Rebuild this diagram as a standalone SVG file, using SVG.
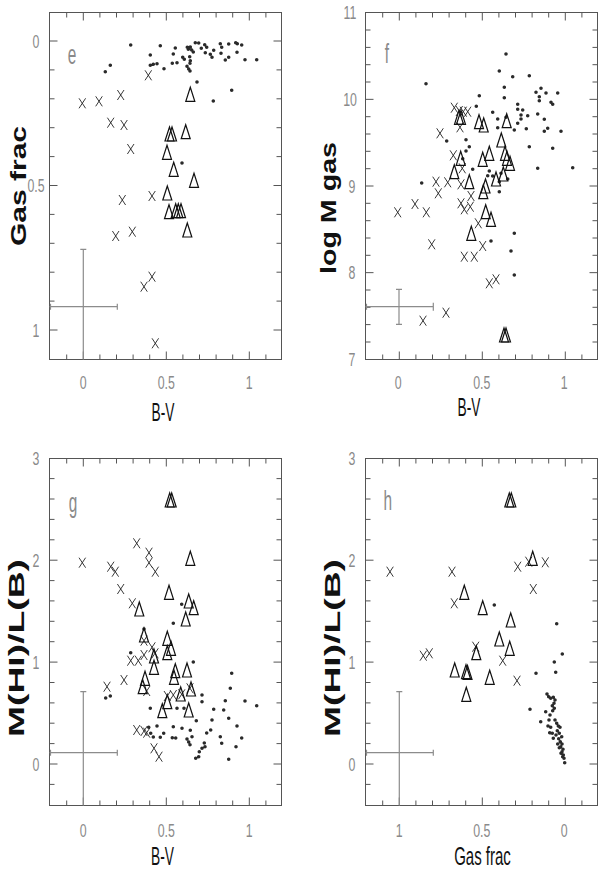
<svg xmlns="http://www.w3.org/2000/svg" xmlns:xlink="http://www.w3.org/1999/xlink" width="599" height="872" viewBox="0 0 599 872">
<style>
.fr{fill:none;stroke:#555;stroke-width:1}
.eb{fill:none;stroke:#8c8c8c;stroke-width:1.2}
.dt{fill:none;stroke:#2a2a2a;stroke-width:3.6;stroke-linecap:round}
.cr{fill:none;stroke:#222;stroke-width:0.9}
.tr{fill:none;stroke:#111;stroke-width:1.2}
.num{font-family:"Liberation Sans",Arial,sans-serif;font-size:19px;fill:#8a8a8a;text-anchor:middle}
.let{font-family:"Liberation Sans",Arial,sans-serif;font-size:28px;fill:#8a8a8a;text-anchor:middle}
.yl{font-family:"Liberation Sans",Arial,sans-serif;font-weight:bold;font-size:22px;fill:#111;text-anchor:middle}
.xl{font-family:"Liberation Sans",Arial,sans-serif;font-size:25px;fill:#111;text-anchor:middle}
</style>
<defs>
<path id="x" class="cr" d="M-3.3,-5L3.3,5M3.3,-5L-3.3,5"/>
<path id="t" class="tr" d="M0,-7L4.5,7H-4.5Z"/>
<g id="box" class="fr">
<rect x="0" y="0" width="232" height="347"/>
<path d="M17.2,0v5M33.8,0v8M50.4,0v5M67,0v5M83.6,0v5M100.2,0v5M116.8,0v8M133.4,0v5M150,0v5M166.6,0v5M183.2,0v5M199.8,0v8M216.4,0v5M17.2,347v-5M33.8,347v-8M50.4,347v-5M67,347v-5M83.6,347v-5M100.2,347v-5M116.8,347v-8M133.4,347v-5M150,347v-5M166.6,347v-5M183.2,347v-5M199.8,347v-8M216.4,347v-5"/>
</g>
<path id="ye" class="fr" d="M0,28.5h8M232,28.5h-8M0,57.4h5M232,57.4h-5M0,86.3h5M232,86.3h-5M0,115.2h5M232,115.2h-5M0,144.1h5M232,144.1h-5M0,173h8M232,173h-8M0,201.9h5M232,201.9h-5M0,230.8h5M232,230.8h-5M0,259.7h5M232,259.7h-5M0,288.6h5M232,288.6h-5M0,317.5h8M232,317.5h-8"/>
<path id="yf" class="fr" d="M0,17.5h5M232,17.5h-5M0,34.9h5M232,34.9h-5M0,52.2h5M232,52.2h-5M0,69.5h5M232,69.5h-5M0,86.85h8M232,86.85h-8M0,104.2h5M232,104.2h-5M0,121.5h5M232,121.5h-5M0,138.8h5M232,138.8h-5M0,156.2h5M232,156.2h-5M0,173.5h8M232,173.5h-8M0,190.8h5M232,190.8h-5M0,208.2h5M232,208.2h-5M0,225.5h5M232,225.5h-5M0,242.8h5M232,242.8h-5M0,260.15h8M232,260.15h-8M0,277.5h5M232,277.5h-5M0,294.8h5M232,294.8h-5M0,312.1h5M232,312.1h-5M0,329.5h5M232,329.5h-5"/>
<path id="yg" class="fr" d="M0,20.1h5M232,20.1h-5M0,40.5h5M232,40.5h-5M0,60.9h5M232,60.9h-5M0,81.3h5M232,81.3h-5M0,101.7h8M232,101.7h-8M0,122.1h5M232,122.1h-5M0,142.4h5M232,142.4h-5M0,162.8h5M232,162.8h-5M0,183.2h5M232,183.2h-5M0,203.6h8M232,203.6h-8M0,224h5M232,224h-5M0,244.4h5M232,244.4h-5M0,264.7h5M232,264.7h-5M0,285.1h5M232,285.1h-5M0,305.5h8M232,305.5h-8M0,325.9h5M232,325.9h-5"/>
</defs>
<rect width="599" height="872" fill="#fff"/>

<g id="panel-e">
<use href="#box" transform="translate(49.5,12.5)"/>
<use href="#ye" transform="translate(49.5,12.5)"/>
<text class="num" transform="translate(36,47.5) scale(0.65,1)">0</text>
<text class="num" transform="translate(36,192) scale(0.65,1)">0.5</text>
<text class="num" transform="translate(36,336.5) scale(0.65,1)">1</text>
<text class="num" transform="translate(83.3,389) scale(0.65,1)">0</text>
<text class="num" transform="translate(166.3,389) scale(0.65,1)">0.5</text>
<text class="num" transform="translate(249.3,389) scale(0.65,1)">1</text>
<text class="let" transform="translate(72,64) scale(0.55,1)">e</text>
<text class="xl" transform="translate(163,421) scale(0.55,1)">B-V</text>
<text class="yl" transform="translate(26,186) rotate(-90)" textLength="120" lengthAdjust="spacingAndGlyphs">Gas frac</text>
<path class="eb" d="M83.3,249.3V359.5M80.3,249.3h6M49.5,306.7H117.3M117.3,303.7v6M50.5,303.7v6"/>
<path class="dt" d="M130.7,45h0M105.3,71.7h0M110.3,65.3h0M150.3,55h0M150.3,65.3h0M153.3,64.3h0M157,63.7h0M160.3,45.7h0M164,68.7h0M173.3,54h0M175.3,48h0M172.3,63.3h0M177,62.7h0M182.7,57.3h0M184.3,59.3h0M187.3,47.3h0M188.3,49.3h0M190.3,47h0M191.7,50h0M193.3,52h0M189.7,56.7h0M190.3,60.7h0M190,63.3h0M187,66.3h0M188.7,69h0M190,71h0M195.3,42.7h0M198.7,43h0M201.3,48.3h0M204.7,44.7h0M206.7,47.3h0M205.3,52.7h0M210.3,54.3h0M212,57.3h0M213.7,50.3h0M220.3,43.7h0M221.7,47.3h0M221,53.3h0M228.7,44h0M228.7,57.3h0M225.3,60h0M235.7,42.7h0M237.3,43.7h0M237,52.3h0M241.7,45h0M245,59.7h0M256.7,59.7h0M197,82h0M231.7,90.3h0M213.3,101h0M182,163h0"/>
<use href="#x" x="82.3" y="103.3"/><use href="#x" x="99" y="101.3"/><use href="#x" x="120.7" y="95"/><use href="#x" x="110.7" y="122.7"/><use href="#x" x="124" y="125"/><use href="#x" x="130.7" y="149"/><use href="#x" x="148.3" y="75.3"/><use href="#x" x="122.3" y="200"/><use href="#x" x="152" y="196"/><use href="#x" x="115.7" y="236"/><use href="#x" x="132.3" y="231.7"/><use href="#x" x="152" y="276.7"/><use href="#x" x="144" y="286.7"/><use href="#x" x="155.3" y="343.3"/>
<use href="#t" x="190.3" y="94.3"/><use href="#t" x="169.5" y="134"/><use href="#t" x="172" y="134"/><use href="#t" x="185.7" y="131.7"/><use href="#t" x="167" y="152.3"/><use href="#t" x="173.7" y="169.3"/><use href="#t" x="194" y="180.3"/><use href="#t" x="167.3" y="193"/><use href="#t" x="169" y="211.7"/><use href="#t" x="175.7" y="210.7"/><use href="#t" x="178.3" y="210.7"/><use href="#t" x="181" y="210.7"/><use href="#t" x="187.3" y="230"/>
</g>

<g id="panel-f">
<use href="#box" transform="translate(365.5,12.5)"/>
<use href="#yf" transform="translate(365.5,12.5)"/>
<text class="num" transform="translate(350,19) scale(0.65,1)">11</text>
<text class="num" transform="translate(350,105.5) scale(0.65,1)">10</text>
<text class="num" transform="translate(352,192.5) scale(0.65,1)">9</text>
<text class="num" transform="translate(352,279) scale(0.65,1)">8</text>
<text class="num" transform="translate(352,365.8) scale(0.65,1)">7</text>
<text class="num" transform="translate(398.3,389) scale(0.65,1)">0</text>
<text class="num" transform="translate(481.7,389) scale(0.65,1)">0.5</text>
<text class="num" transform="translate(564.3,389) scale(0.65,1)">1</text>
<text class="let" transform="translate(387,63) scale(0.55,1)">f</text>
<text class="xl" transform="translate(469,416) scale(0.55,1)">B-V</text>
<text class="yl" transform="translate(336,208) rotate(-90)" textLength="132" lengthAdjust="spacingAndGlyphs">log M gas</text>
<path class="eb" d="M399,289.3V324.3M396,289.3h6M396,324.3h6M365.5,306.7H433.3M433.3,302.7v8M366.5,303.7v6"/>
<path class="dt" d="M426,83.7h0M479.3,95.7h0M499.3,71h0M506,54h0M512.7,76.7h0M504.3,87.3h0M504.3,97.7h0M529.3,75.7h0M476.3,106.3h0M492.7,112.3h0M497.7,119h0M497.7,127.7h0M517.7,104.3h0M517.7,109.3h0M522.7,110h0M521,115h0M521,119h0M517.7,123.3h0M514.3,130h0M527.7,115.7h0M526.3,128.7h0M536,92.3h0M541,88.3h0M539.3,96.7h0M539.3,100.7h0M546,93h0M557.7,93h0M551,102.3h0M552.7,104.3h0M537.7,114h0M544.3,119.3h0M547.7,128.3h0M544.3,131.3h0M561,131.3h0M529.3,146.7h0M552.7,148.3h0M537.7,168.3h0M572.7,167.7h0M446.7,141h0M466,139.7h0M469.3,146.7h0M466,151h0M472.7,169.3h0M489.3,171h0M487.7,175.7h0M492.7,176h0M499.3,181.7h0M501,173.3h0M507.7,179h0M421.7,183h0M506,117.3h0M462.7,158.7h0M499.3,191.7h0M491,241h0M514.3,233.3h0M511,251h0M514.3,275h0"/>
<use href="#x" x="454.3" y="107.7"/><use href="#x" x="459.3" y="111"/><use href="#x" x="463.3" y="111.7"/><use href="#x" x="467.7" y="111.7"/><use href="#x" x="460" y="127.3"/><use href="#x" x="440" y="133.3"/><use href="#x" x="453.3" y="155.3"/><use href="#x" x="462.3" y="168.3"/><use href="#x" x="436" y="181.7"/><use href="#x" x="447.7" y="182.3"/><use href="#x" x="461" y="184.3"/><use href="#x" x="438.3" y="193.3"/><use href="#x" x="397.7" y="212.3"/><use href="#x" x="415" y="204"/><use href="#x" x="426.3" y="212.3"/><use href="#x" x="431.7" y="244.3"/><use href="#x" x="461" y="203.3"/><use href="#x" x="464.3" y="209.3"/><use href="#x" x="470.3" y="206.7"/><use href="#x" x="471" y="196"/><use href="#x" x="464.3" y="256.7"/><use href="#x" x="474.3" y="256.7"/><use href="#x" x="478.3" y="223.3"/><use href="#x" x="482.7" y="246"/><use href="#x" x="489.3" y="283.3"/><use href="#x" x="496" y="279.3"/><use href="#x" x="423" y="320.7"/><use href="#x" x="446" y="312.7"/>
<use href="#t" x="459" y="117.3"/><use href="#t" x="461" y="117.3"/><use href="#t" x="479" y="121.7"/><use href="#t" x="483.7" y="125"/><use href="#t" x="506.7" y="120.7"/><use href="#t" x="501.3" y="140"/><use href="#t" x="505" y="153.3"/><use href="#t" x="507" y="158.3"/><use href="#t" x="510" y="163.3"/><use href="#t" x="460.7" y="158.3"/><use href="#t" x="454.3" y="171.7"/><use href="#t" x="482.7" y="159.3"/><use href="#t" x="489.3" y="153.3"/><use href="#t" x="469.3" y="181.7"/><use href="#t" x="496" y="179"/><use href="#t" x="503.3" y="174"/><use href="#t" x="485.5" y="186"/><use href="#t" x="483.3" y="191.7"/><use href="#t" x="485.7" y="211.7"/><use href="#t" x="491" y="219.3"/><use href="#t" x="471.3" y="233.3"/><use href="#t" x="504" y="335"/><use href="#t" x="506" y="335"/>
</g>

<g id="panel-g">
<use href="#box" transform="translate(49.5,458.5)"/>
<use href="#yg" transform="translate(49.5,458.5)"/>
<text class="num" transform="translate(36,465) scale(0.65,1)">3</text>
<text class="num" transform="translate(36,566.7) scale(0.65,1)">2</text>
<text class="num" transform="translate(36,668.5) scale(0.65,1)">1</text>
<text class="num" transform="translate(36,770.5) scale(0.65,1)">0</text>
<text class="num" transform="translate(83.3,836.5) scale(0.65,1)">0</text>
<text class="num" transform="translate(166.3,836.5) scale(0.65,1)">0.5</text>
<text class="num" transform="translate(249.3,836.5) scale(0.65,1)">1</text>
<text class="let" transform="translate(73,512) scale(0.55,1)">g</text>
<text class="xl" transform="translate(162.5,865) scale(0.55,1)">B-V</text>
<text class="yl" transform="translate(24,648) rotate(-90)" textLength="178" lengthAdjust="spacingAndGlyphs">M(HI)/L(B)</text>
<path class="eb" d="M83.3,691.7V805.5M80.3,691.7h6M49.5,752.7H117.3M117.3,749.7v6M50.5,749.7v6"/>
<path class="dt" d="M181.7,604.3h0M173.3,623.3h0M144,629h0M105.7,698h0M110.3,696h0M130.7,652.7h0M150.3,708.3h0M148.7,727.3h0M150.7,733.3h0M153.3,737h0M157,726h0M160.3,737.3h0M163.7,733.3h0M173.3,726.7h0M172.3,737.7h0M175.7,738h0M177,708.3h0M182,728.3h0M184,708.3h0M187,739h0M188.7,742h0M190,744.7h0M192,736.7h0M190.3,730.3h0M193.3,662h0M196.3,720.7h0M195.7,758.3h0M198.7,756.7h0M199.3,751.7h0M202,748.3h0M205,746.7h0M204.3,743h0M206.7,733h0M210.7,730h0M212,720h0M213.7,709.3h0M202,701.7h0M202,695h0M220.3,736.7h0M221.7,743.3h0M223.7,710h0M225.3,700.7h0M228.7,718.3h0M228.7,759.3h0M230.3,688.3h0M231.7,673.3h0M237,726h0M236,746.7h0M241.7,738h0M245,701h0M256.7,705.7h0"/>
<use href="#x" x="82.3" y="562.7"/><use href="#x" x="110.7" y="566.7"/><use href="#x" x="115.3" y="571.7"/><use href="#x" x="120.7" y="589"/><use href="#x" x="136.7" y="543.3"/><use href="#x" x="149" y="552.7"/><use href="#x" x="149" y="562.7"/><use href="#x" x="155.3" y="571.7"/><use href="#x" x="132.3" y="603.3"/><use href="#x" x="107" y="686.7"/><use href="#x" x="124" y="680"/><use href="#x" x="130.7" y="660.7"/><use href="#x" x="138.3" y="660.7"/><use href="#x" x="144" y="655"/><use href="#x" x="144" y="640.7"/><use href="#x" x="152" y="647.3"/><use href="#x" x="155" y="653.3"/><use href="#x" x="146.7" y="691"/><use href="#x" x="136.7" y="730"/><use href="#x" x="144" y="731"/><use href="#x" x="146.7" y="732.7"/><use href="#x" x="154" y="748.3"/><use href="#x" x="159" y="756.7"/><use href="#x" x="173.3" y="695"/><use href="#x" x="181.7" y="694.3"/><use href="#x" x="190" y="688.3"/><use href="#x" x="167.3" y="696"/>
<use href="#t" x="169.7" y="500"/><use href="#t" x="171.7" y="500"/><use href="#t" x="190.3" y="558.3"/><use href="#t" x="169" y="592.3"/><use href="#t" x="139.3" y="609"/><use href="#t" x="188.7" y="601"/><use href="#t" x="193.7" y="607.7"/><use href="#t" x="185.7" y="619"/><use href="#t" x="144" y="635"/><use href="#t" x="167.3" y="638.3"/><use href="#t" x="171" y="648.3"/><use href="#t" x="167.3" y="652.7"/><use href="#t" x="154" y="667.3"/><use href="#t" x="154" y="656"/><use href="#t" x="145" y="678.3"/><use href="#t" x="142.7" y="686.7"/><use href="#t" x="175.3" y="670.7"/><use href="#t" x="174" y="677.3"/><use href="#t" x="187" y="670"/><use href="#t" x="191" y="689"/><use href="#t" x="180.7" y="694"/><use href="#t" x="167.3" y="701.7"/><use href="#t" x="162.3" y="710.7"/><use href="#t" x="188.7" y="710"/>
</g>

<g id="panel-h">
<use href="#box" transform="translate(365.5,458.5)"/>
<use href="#yg" transform="translate(365.5,458.5)"/>
<text class="num" transform="translate(352,465) scale(0.65,1)">3</text>
<text class="num" transform="translate(352,566.7) scale(0.65,1)">2</text>
<text class="num" transform="translate(352,668.5) scale(0.65,1)">1</text>
<text class="num" transform="translate(352,770.5) scale(0.65,1)">0</text>
<text class="num" transform="translate(399.3,836.5) scale(0.65,1)">1</text>
<text class="num" transform="translate(481.7,836.5) scale(0.65,1)">0.5</text>
<text class="num" transform="translate(564.3,836.5) scale(0.65,1)">0</text>
<text class="let" transform="translate(387.7,510) scale(0.55,1)">h</text>
<text class="xl" transform="translate(482.5,865) scale(0.6,1)">Gas frac</text>
<text class="yl" transform="translate(340,648) rotate(-90)" textLength="178" lengthAdjust="spacingAndGlyphs">M(HI)/L(B)</text>
<path class="eb" d="M399.3,691.7V805.5M396.3,691.7h6M365.5,752.7H433.3M433.3,749.7v6M366.5,749.7v6"/>
<path class="dt" d="M494.3,605h0M556.7,623.8h0M562.3,654h0M554.3,662h0M555.7,672.3h0M536,673.3h0M530,709.3h0M540.7,721.7h0M547,694h0M548.7,696.7h0M550.7,698.3h0M553.3,697.3h0M555,700h0M554,703.3h0M552.3,705.7h0M554.3,708.3h0M552.7,710.7h0M545.7,711.7h0M550,715h0M549,720h0M548,726h0M550.7,727.3h0M549.7,732.7h0M552.3,733.3h0M555,720h0M556.7,723.3h0M558.3,726h0M560,727.3h0M557.3,730.7h0M559.3,733.3h0M561.7,736.7h0M558.7,738.7h0M560.3,741.7h0M562,744h0M560.7,746.7h0M563,749.3h0M562,751.7h0M563.3,755h0M564,758.3h0M564.7,762.7h0M556,735h0M553.3,738.3h0M557.7,744h0M559.3,747.7h0M561,753.3h0M562.7,756.7h0"/>
<use href="#x" x="390" y="571.7"/><use href="#x" x="452" y="571.7"/><use href="#x" x="454.3" y="603.3"/><use href="#x" x="517.7" y="566.7"/><use href="#x" x="528.7" y="561.7"/><use href="#x" x="545.3" y="562.3"/><use href="#x" x="533.3" y="589"/><use href="#x" x="423.3" y="655.7"/><use href="#x" x="429.3" y="653.3"/><use href="#x" x="475.7" y="646.7"/><use href="#x" x="502.7" y="660.7"/><use href="#x" x="517" y="680.7"/>
<use href="#t" x="509.3" y="500"/><use href="#t" x="511.3" y="500"/><use href="#t" x="532.7" y="558.3"/><use href="#t" x="464.3" y="592.3"/><use href="#t" x="482.7" y="607.7"/><use href="#t" x="510.7" y="620"/><use href="#t" x="499.3" y="639"/><use href="#t" x="509.7" y="648.3"/><use href="#t" x="476.3" y="652.7"/><use href="#t" x="454.7" y="670"/><use href="#t" x="466" y="671.7"/><use href="#t" x="467.5" y="672.5"/><use href="#t" x="489.7" y="677.3"/><use href="#t" x="466.3" y="694.3"/>
</g>
</svg>
